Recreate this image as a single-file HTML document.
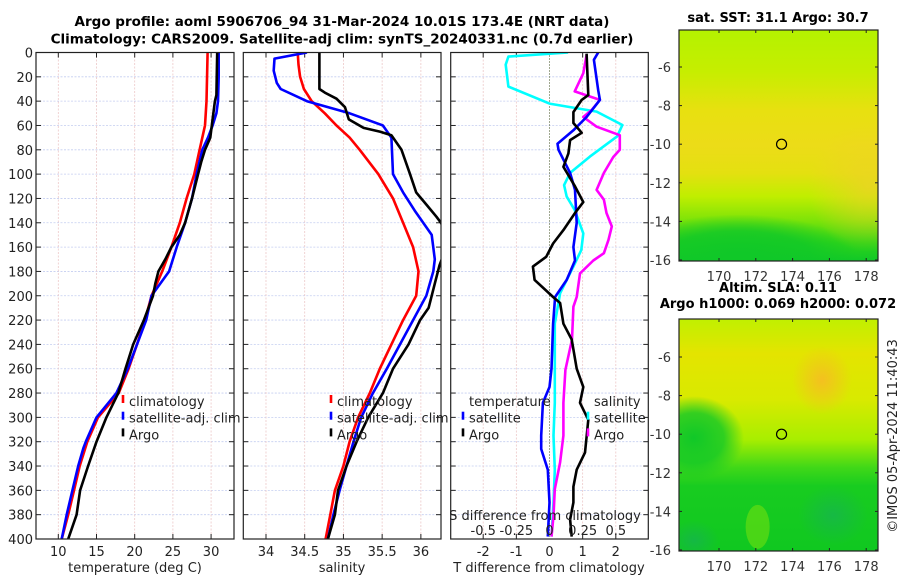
<!DOCTYPE html>
<html><head><meta charset="utf-8">
<style>
html,body{margin:0;padding:0;background:#fff;}
svg{display:block;font-family:"DejaVu Sans","Liberation Sans",sans-serif;}
</style></head>
<body>
<svg id="fig" width="900" height="580" viewBox="0 0 900 580" xmlns="http://www.w3.org/2000/svg">
<defs>
<linearGradient id="sstBase" x1="0" y1="0" x2="0" y2="1">
<stop offset="0" stop-color="#b4f200"/><stop offset="0.18" stop-color="#c6ee00"/>
<stop offset="0.35" stop-color="#e8e010"/><stop offset="0.5" stop-color="#ecdc18"/>
<stop offset="0.62" stop-color="#e4e010"/><stop offset="0.72" stop-color="#c0ee00"/>
<stop offset="0.82" stop-color="#80e408"/><stop offset="0.92" stop-color="#30d418"/><stop offset="1" stop-color="#10c828"/>
</linearGradient>
<radialGradient id="sstOrange"><stop offset="0" stop-color="#f0d028" stop-opacity="0.7"/><stop offset="1" stop-color="#f0d028" stop-opacity="0"/></radialGradient>
<linearGradient id="slaBase" x1="0" y1="0" x2="0" y2="1">
<stop offset="0" stop-color="#c0f000"/><stop offset="0.15" stop-color="#e4e400"/>
<stop offset="0.35" stop-color="#d8ea00"/><stop offset="0.52" stop-color="#a8ee00"/>
<stop offset="0.64" stop-color="#40d818"/><stop offset="0.72" stop-color="#18cc20"/><stop offset="1" stop-color="#10c820"/>
</linearGradient>
<radialGradient id="slaOrange"><stop offset="0" stop-color="#f4c020"/><stop offset="1" stop-color="#f4c020" stop-opacity="0"/></radialGradient>
<radialGradient id="slaGreen"><stop offset="0" stop-color="#10c828"/><stop offset="0.6" stop-color="#10c828" stop-opacity="0.8"/><stop offset="1" stop-color="#10c828" stop-opacity="0"/></radialGradient>
<radialGradient id="slaDark"><stop offset="0" stop-color="#18a868"/><stop offset="1" stop-color="#18a868" stop-opacity="0"/></radialGradient>
<radialGradient id="sstGreen"><stop offset="0" stop-color="#10c828"/><stop offset="0.6" stop-color="#10c828" stop-opacity="0.8"/><stop offset="1" stop-color="#10c828" stop-opacity="0"/></radialGradient>
<clipPath id="c1"><rect x="36" y="52.5" width="198" height="486.5"/></clipPath>
<clipPath id="c2"><rect x="243.3" y="52.5" width="197.7" height="486.5"/></clipPath>
<clipPath id="c3"><rect x="450.7" y="52.5" width="197.6" height="486.5"/></clipPath>
<clipPath id="m1"><rect x="679" y="30" width="199" height="231"/></clipPath>
<clipPath id="m2"><rect x="679" y="319" width="199" height="232"/></clipPath>
</defs>

<g font-weight="bold" font-size="13.5" text-anchor="middle" fill="#000">
<text x="342" y="26">Argo profile: aoml 5906706_94 31-Mar-2024 10.01S 173.4E (NRT data)</text>
<text x="342" y="43.5">Climatology: CARS2009. Satellite-adj clim: synTS_20240331.nc (0.7d earlier)</text>
</g>

<g id="panels"></g>
<g id="maps"></g>

<text x="897" y="436" transform="rotate(-90 897 436)" text-anchor="middle" font-size="13" fill="#222">©IMOS 05-Apr-2024 11:40:43</text>
</svg>

<script>
// ---------- data ----------
const depthTicks = [0,20,40,60,80,100,120,140,160,180,200,220,240,260,280,300,320,340,360,380,400];
const tempTicks = [10,15,20,25,30];
const salTicks = [34,34.5,35,35.5,36];
const salTickLabels = ["34","34.5","35","35.5","36"];
const tdiffTicks = [-2,-1,0,1,2];
const sdiffTicks = [-0.5,-0.25,0,0.25,0.5];
const sdiffTickLabels = ["-0.5","-0.25","0","0.25","0.5"];

const tClimDepth = [0,40,60,80,100,120,140,160,180,200,220,240,260,280,300,320,340,360,380,400];
const tClimVal   = [29.55,29.4,29.2,28.5,27.8,26.8,25.9,24.8,23.6,22.2,21.35,20.3,19.2,17.9,15.2,13.8,12.8,12.05,11.3,10.45];
const tSatDepth = [0,20,40,50,60,70,80,100,120,140,160,180,200,220,240,260,280,300,320,325,340,360,380,400];
const tSatVal   = [31.0,31.0,30.9,30.7,30.2,29.6,28.85,28.1,27.5,26.6,25.5,24.5,22.2,21.5,20.3,19.1,17.6,15.0,13.6,13.3,12.6,11.85,11.1,10.45];
const tArgoDepth = [0,35,40,60,70,80,90,100,120,140,150,160,170,180,190,200,220,240,260,280,300,320,340,360,380,400];
const tArgoVal   = [30.8,30.7,30.5,30.1,29.9,29.2,28.7,28.3,27.5,26.6,25.9,24.8,24.0,23.1,22.7,22.4,21.2,19.8,18.8,17.85,16.3,15.0,13.9,12.85,12.4,11.3];

const sClimDepth = [0,10,20,30,40,50,60,70,80,100,120,140,160,180,200,220,240,260,280,300,320,340,360,380,400];
const sClimVal   = [34.41,34.42,34.44,34.49,34.59,34.76,34.91,35.08,35.21,35.45,35.64,35.77,35.9,35.97,35.94,35.77,35.62,35.47,35.34,35.19,35.08,35.0,34.89,34.83,34.77];
const sSatDepth = [0,5,15,25,30,40,50,60,70,100,115,130,150,170,180,200,220,240,260,280,300,320,340,360,380,400];
const sSatVal   = [34.53,34.11,34.1,34.14,34.19,34.53,35.08,35.51,35.62,35.64,35.77,35.92,36.14,36.18,36.16,36.07,35.9,35.73,35.56,35.38,35.23,35.13,35.04,34.95,34.87,34.8];
const sArgoDepth = [0,30,33,38,45,55,62,65,68,80,100,115,125,135,140,155,175,190,200,210,220,240,260,280,300,320,340,360,380,400];
const sArgoVal   = [34.69,34.69,34.76,34.91,35.02,35.07,35.26,35.47,35.62,35.75,35.86,35.94,36.07,36.2,36.26,36.36,36.24,36.18,36.14,36.1,35.99,35.84,35.64,35.51,35.32,35.17,35.04,34.93,34.89,34.8];

const dTSatDepth = [0,6,31,39,53,64,75,80,99,113,140,160,171,187,201,223,260,275,288,315,326,343,370,398];
const dTSatVal   = [1.47,1.34,1.47,1.52,1.12,0.72,0.24,0.27,0.62,0.77,0.82,0.72,0.77,0.52,0.17,0.11,0.06,0,-0.2,-0.25,-0.25,-0.05,0,-0.05];
const dTArgoDepth = [1,35,39,49,58,66,72,83,94,110,123,132,146,157,168,176,187,201,206,223,236,260,275,288,302,329,343,357,370,384,398];
const dTArgoVal   = [1.12,1.17,0.97,0.72,0.72,0.97,0.62,0.57,0.42,0.77,1.02,0.77,0.42,0.11,-0.1,-0.5,-0.45,0.11,0.32,0.42,0.67,0.82,1.02,0.92,1.17,1.07,0.82,0.72,0.72,0.62,0.67];
const dSSatDepth = [0,3.4,10,28,42,48.6,59.6,69,85.6,99,109,118.5,129.5,148.7,162.4,176,198,223,260,288,315,343,370,398];
const dSSatVal   = [0.14,-0.31,-0.33,-0.31,0.0,0.355,0.55,0.51,0.305,0.155,0.11,0.13,0.19,0.255,0.24,0.18,0.08,0.04,0.04,0.04,0.03,0.04,0.03,0.015];
const dSArgoDepth = [2,17,32,39,47,53,61,68,80,86,99,113,121,132,143,154,165,171,181.6,201,209,236,261,288,315,337,359,381,398];
const dSArgoVal   = [0.28,0.255,0.19,0.38,0.32,0.255,0.355,0.53,0.53,0.48,0.41,0.355,0.41,0.43,0.47,0.445,0.41,0.33,0.23,0.205,0.18,0.17,0.12,0.105,0.105,0.08,0.04,0.03,0.015];

// ---------- scales ----------
const Y0 = 52.5, Y1 = 539;
const yD = d => Y0 + d*(Y1-Y0)/400;
const P1 = {x0:36, x1:234, lo:7.08, hi:33.0};
const P2 = {x0:243.3, x1:441, lo:33.707, hi:36.26};
const P3 = {x0:450.7, x1:648.3, lo:-2.98, hi:2.98};
const sx = (p,v) => p.x0 + (v-p.lo)*(p.x1-p.x0)/(p.hi-p.lo);
const xS3 = v => sx(P3, v*4);

const NS = "http://www.w3.org/2000/svg";
function el(tag, attrs, parent, txt){
  const e = document.createElementNS(NS, tag);
  for (const k in attrs) e.setAttribute(k, attrs[k]);
  if (txt !== undefined) e.textContent = txt;
  parent.appendChild(e);
  return e;
}
const panels = document.getElementById('panels');

function gridAndFrame(p, g){
  depthTicks.forEach(d=>{
    const y = yD(d);
    if (d>0 && d<400) el('line',{x1:p.x0,x2:p.x1,y1:y,y2:y,stroke:'#c4cdf0','stroke-width':0.8,'stroke-dasharray':'2,1.5'},g);
    el('line',{x1:p.x0,x2:p.x0+5,y1:y,y2:y,stroke:'#222','stroke-width':1},g);
    el('line',{x1:p.x1-5,x2:p.x1,y1:y,y2:y,stroke:'#222','stroke-width':1},g);
  });
}
function vGrid(x, g){
  el('line',{x1:x,x2:x,y1:Y0,y2:Y1,stroke:'#ecc8c8','stroke-width':0.8,'stroke-dasharray':'2,1.5'},g);
  el('line',{x1:x,x2:x,y1:Y0,y2:Y0+5,stroke:'#222','stroke-width':1},g);
  el('line',{x1:x,x2:x,y1:Y1-5,y2:Y1,stroke:'#222','stroke-width':1},g);
}
function frame(p, g){
  el('rect',{x:p.x0,y:Y0,width:p.x1-p.x0,height:Y1-Y0,fill:'none',stroke:'#222','stroke-width':1.2},g);
}
function line(depths, vals, xf, color, g, clip, name){
  const pts = depths.map((d,i)=> xf(vals[i]).toFixed(1)+','+yD(d).toFixed(1)).join(' ');
  const pl = el('polyline',{points:pts,fill:'none',stroke:color,'stroke-width':2.6,'stroke-linejoin':'round','clip-path':'url(#'+clip+')'},g);
  
  
}

// Panel 1: temperature
const g1 = el('g',{},panels);


gridAndFrame(P1,g1);
tempTicks.forEach(t=>{ vGrid(sx(P1,t),g1);
  el('text',{x:sx(P1,t),y:556,'font-size':13,'text-anchor':'middle',fill:'#222'},g1,String(t)); });
depthTicks.forEach(d=>{ el('text',{x:33,y:yD(d)+5,'font-size':13,'text-anchor':'end',fill:'#222'},g1,String(d)); });
el('text',{x:135,y:572,'font-size':13,'text-anchor':'middle',fill:'#222'},g1,'temperature (deg C)');
line(tClimDepth,tClimVal,v=>sx(P1,v),'#ff0000',g1,'c1','temp-climatology-line');
line(tSatDepth,tSatVal,v=>sx(P1,v),'#0000ff',g1,'c1','temp-satellite-line');
line(tArgoDepth,tArgoVal,v=>sx(P1,v),'#000000',g1,'c1','temp-argo-line');
frame(P1,g1);

// Panel 2: salinity
const g2 = el('g',{},panels);


gridAndFrame(P2,g2);
salTicks.forEach((t,i)=>{ vGrid(sx(P2,t),g2);
  el('text',{x:sx(P2,t),y:556,'font-size':13,'text-anchor':'middle',fill:'#222'},g2,salTickLabels[i]); });
el('text',{x:342,y:572,'font-size':13,'text-anchor':'middle',fill:'#222'},g2,'salinity');
line(sClimDepth,sClimVal,v=>sx(P2,v),'#ff0000',g2,'c2','sal-climatology-line');
line(sSatDepth,sSatVal,v=>sx(P2,v),'#0000ff',g2,'c2','sal-satellite-line');
line(sArgoDepth,sArgoVal,v=>sx(P2,v),'#000000',g2,'c2','sal-argo-line');
frame(P2,g2);

// Panel 3: differences
const g3 = el('g',{},panels);


gridAndFrame(P3,g3);
tdiffTicks.forEach(t=>{ if(t!==0) vGrid(sx(P3,t),g3);
  el('text',{x:sx(P3,t),y:556,'font-size':13,'text-anchor':'middle',fill:'#222'},g3,String(t)); });
el('line',{x1:sx(P3,0),x2:sx(P3,0),y1:Y0,y2:Y1,stroke:'#405020','stroke-width':1,'stroke-dasharray':'1,2'},g3);
el('text',{x:549,y:572,'font-size':13,'text-anchor':'middle',fill:'#222'},g3,'T difference from climatology');
line(dSSatDepth,dSSatVal,xS3,'#00ffff',g3,'c3','sal-diff-satellite-line');
line(dSArgoDepth,dSArgoVal,xS3,'#ff00ff',g3,'c3','sal-diff-argo-line');
line(dTSatDepth,dTSatVal,v=>sx(P3,v),'#0000ff',g3,'c3','temp-diff-satellite-line');
line(dTArgoDepth,dTArgoVal,v=>sx(P3,v),'#000000',g3,'c3','temp-diff-argo-line');
el('text',{x:545,y:520,'font-size':13,'text-anchor':'middle',fill:'#222'},g3,'S difference from climatology');
sdiffTicks.forEach((t,i)=>{ el('text',{x:xS3(t),y:535,'font-size':13,'text-anchor':'middle',fill:'#222'},g3,sdiffTickLabels[i]); });
frame(P3,g3);

// legends
function legend(x, y0, items, g, name){
  const lg = el('g',{},g);
  
  
  items.forEach((it,i)=>{
    const y = y0 + i*16.7;
    if (it[1]) el('line',{x1:x,x2:x,y1:y-11,y2:y-3,stroke:it[1],'stroke-width':2.6},lg);
    el('text',{x:x+6,y:y,'font-size':13,fill:'#222'},lg,it[0]);
  });
}
legend(123,406,[['climatology','#ff0000'],['satellite-adj. clim','#0000ff'],['Argo','#000000']],g1,'temperature-legend');
legend(331,406,[['climatology','#ff0000'],['satellite-adj. clim','#0000ff'],['Argo','#000000']],g2,'salinity-legend');
legend(463,406,[['temperature',null],['satellite','#0000ff'],['Argo','#000000']],g3,'temp-diff-legend');
legend(588,406,[['salinity',null],['satellite','#00ffff'],['Argo','#ff00ff']],g3,'sal-diff-legend');

// ---------- maps ----------
const lonTicks = [170,172,174,176,178];
const latTicks = [-6,-8,-10,-12,-14,-16];
const floatLon = 173.4, floatLat = -10;
const maps = document.getElementById('maps');
const MX0 = 679, MX1 = 878;
const mx = lon => 719 + (lon-170)*18.4;
function drawMap(top, bottom, latY, kind, title, clip){
  const g = el('g',{},maps);
  
  
  const w = MX1-MX0, h = bottom-top;
  const f = el('g',{'clip-path':'url(#'+clip+')'},g);
  if (kind==='sst'){
    el('rect',{x:MX0,y:top,width:w,height:h,fill:'url(#sstBase)'},f);
    el('ellipse',{cx:MX0+w*0.3,cy:bottom-5,rx:w*0.6,ry:h*0.18,fill:'url(#sstGreen)'},f);
    el('ellipse',{cx:MX1-10,cy:top+h*0.68,rx:w*0.3,ry:h*0.28,fill:'url(#sstOrange)'},f);
  } else {
    el('rect',{x:MX0,y:top,width:w,height:h,fill:'url(#slaBase)'},f);
    el('ellipse',{cx:mx(175.6),cy:latY(-7.2),rx:30,ry:34,fill:'url(#slaOrange)'},f);
    el('ellipse',{cx:MX0+15,cy:latY(-10.2),rx:50,ry:42,fill:'url(#slaGreen)'},f);
    el('ellipse',{cx:mx(176.2),cy:latY(-14.2),rx:35,ry:30,fill:'url(#slaDark)',opacity:0.5},f);
    el('ellipse',{cx:MX0+15,cy:latY(-15.5),rx:25,ry:20,fill:'url(#slaDark)',opacity:0.5},f);
    el('ellipse',{cx:mx(172.1),cy:latY(-14.8),rx:12,ry:22,fill:'#70e010',opacity:0.6},f);
  }
  el('rect',{x:MX0,y:top,width:w,height:h,fill:'none',stroke:'#222','stroke-width':1.2},g);
  lonTicks.forEach(l=>{ const x=mx(l);
    el('line',{x1:x,x2:x,y1:bottom,y2:bottom-3,stroke:'#222'},g);
    el('line',{x1:x,x2:x,y1:top,y2:top+3,stroke:'#222'},g);
    el('text',{x:x,y:bottom+20,'font-size':13,'text-anchor':'middle',fill:'#333'},g,String(l)); });
  latTicks.forEach(l=>{ const y=latY(l);
    el('line',{x1:MX0,x2:MX0+3,y1:y,y2:y,stroke:'#222'},g);
    el('line',{x1:MX1,x2:MX1-3,y1:y,y2:y,stroke:'#222'},g);
    el('text',{x:671,y:y+5,'font-size':13,'text-anchor':'end',fill:'#333'},g,String(l)); });
  const c = el('circle',{cx:mx(floatLon),cy:latY(floatLat),r:5,fill:'none',stroke:'#000','stroke-width':1.2},g);
  
  
  title.forEach((t,i)=>{
    el('text',{x:778,y:title.length===1?top-8:top-27+i*16,'font-size':13,'font-weight':'bold','text-anchor':'middle',fill:'#000'},g,t);
  });
}
drawMap(30, 261, l => 67 + (-6-l)*19.3, 'sst', ['sat. SST: 31.1 Argo: 30.7'], 'm1');
drawMap(319, 551, l => 357 + (-6-l)*19.3, 'sla', ['Altim. SLA: 0.11','Argo h1000: 0.069 h2000: 0.072'], 'm2');
</script>
</body></html>
